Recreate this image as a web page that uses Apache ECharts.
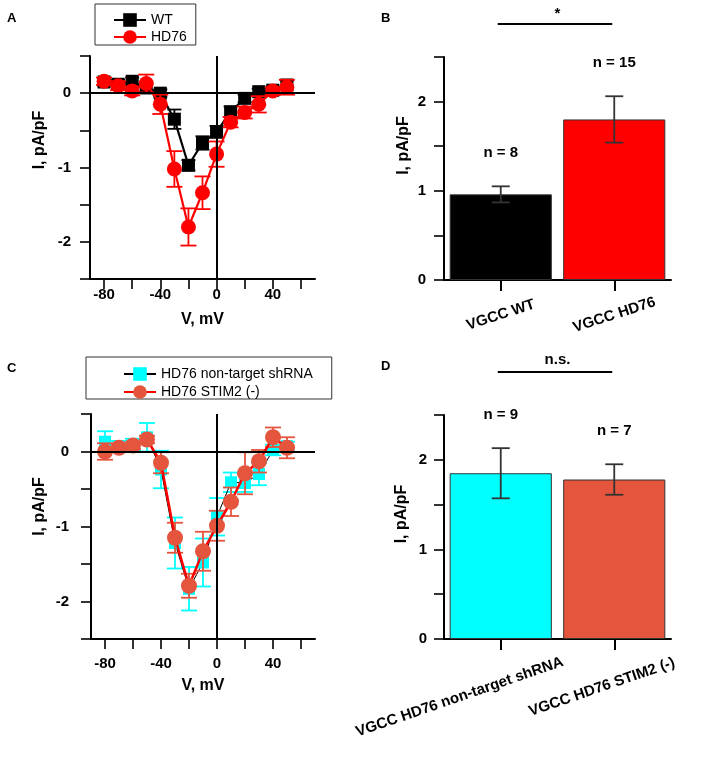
<!DOCTYPE html>
<html>
<head>
<meta charset="utf-8">
<script src="https://cdn.jsdelivr.net/npm/echarts@6/dist/echarts.min.js"></script>
<style>
  html, body { margin: 0; padding: 0; background: #fff; }
  #chart { width: 708px; height: 758px; }
</style>
</head>
<body>
<div id="chart"></div>
<script>
// I-V curves (A, C) and peak current bars (B, D)
var FONT = '"Liberation Sans", Arial, sans-serif';

// ---- data ----
var voltages = [-80, -70, -60, -50, -40, -30, -20, -10, 0, 10, 20, 30, 40, 50];
var xTickValues = [-80, -60, -40, -20, 0, 20, 40, 60];
var xLabelValues = [-80, -40, 0, 40];

var wtMean = [0.15, 0.12, 0.16, 0.07, 0.00, -0.35, -0.97, -0.67, -0.52, -0.25, -0.07, 0.02, 0.04, 0.11];
var wtErr = [0.05, 0.06, 0.05, 0.05, 0.05, 0.13, 0.07, 0.09, 0.08, 0.07, 0.05, 0.04, 0.05, 0.06];
var hdMean = [0.16, 0.10, 0.03, 0.13, -0.15, -1.02, -1.80, -1.34, -0.82, -0.39, -0.26, -0.15, 0.03, 0.08];
var hdErr = [0.05, 0.06, 0.06, 0.12, 0.13, 0.24, 0.25, 0.22, 0.17, 0.07, 0.08, 0.11, 0.05, 0.10];

var ntMean = [0.13, 0.07, 0.09, 0.19, -0.24, -1.22, -1.83, -1.48, -0.87, -0.41, -0.42, -0.30, 0.02, 0.07];
var ntErr = [0.14, 0.07, 0.08, 0.19, 0.25, 0.34, 0.29, 0.32, 0.25, 0.13, 0.12, 0.15, 0.07, 0.06];
var stMean = [0.00, 0.05, 0.08, 0.16, -0.15, -1.15, -1.79, -1.33, -0.99, -0.67, -0.29, -0.13, 0.19, 0.05];
var stErr = [0.11, 0.04, 0.05, 0.05, 0.14, 0.20, 0.16, 0.26, 0.20, 0.19, 0.28, 0.15, 0.13, 0.14];

var catsB = ['VGCC WT', 'VGCC HD76'];
var meanB = [0.96, 1.80];
var errB = [0.09, 0.26];
var nB = ['n = 8', 'n = 15'];
var sigB = '*';

var catsD = ['VGCC HD76 non-target shRNA', 'VGCC HD76 STIM2 (-)'];
var meanD = [1.85, 1.78];
var errD = [0.28, 0.17];
var nD = ['n = 9', 'n = 7'];
var sigD = 'n.s.';

// ---- helpers ----
var boldText = { color: '#000', fontFamily: FONT, fontWeight: 'bold', fontSize: 15 };

function pts(mean) { return voltages.map(function (v, i) { return [v, mean[i]]; }); }
function errPts(mean, err) { return voltages.map(function (v, i) { return [v, mean[i] - err[i], mean[i] + err[i]]; }); }

function errSeries(gi, data, color, cap, z) {
  return {
    type: 'custom', xAxisIndex: gi, yAxisIndex: gi, z: z, data: data,
    encode: { x: 0, y: [1, 2] },
    renderItem: function (params, api) {
      var lo = api.coord([api.value(0), api.value(1)]);
      var hi = api.coord([api.value(0), api.value(2)]);
      var st = { stroke: color, lineWidth: 1.8 };
      return { type: 'group', children: [
        { type: 'line', shape: { x1: lo[0], y1: lo[1], x2: hi[0], y2: hi[1] }, style: st },
        { type: 'line', shape: { x1: lo[0] - cap, y1: lo[1], x2: lo[0] + cap, y2: lo[1] }, style: st },
        { type: 'line', shape: { x1: hi[0] - cap, y1: hi[1], x2: hi[0] + cap, y2: hi[1] }, style: st }
      ] };
    }
  };
}

function lineSeries(gi, name, data, lineColor, lineWidth, symbol, size, fill, z, zeroLines) {
  var s = {
    type: 'line', name: name, xAxisIndex: gi, yAxisIndex: gi, z: z, data: data,
    symbol: symbol, symbolSize: size, showAllSymbol: true,
    lineStyle: { color: lineColor, width: lineWidth },
    itemStyle: { color: fill, borderWidth: 0 }
  };
  if (zeroLines) {
    s.markLine = { silent: true, symbol: 'none', label: { show: false },
      lineStyle: { color: '#000', width: 2, type: 'solid' },
      data: [{ yAxis: 0 }, { xAxis: 0 }] };
  }
  return s;
}

function ivXAxis(gi, labelMargin, nameGap) {
  return {
    gridIndex: gi, type: 'value', min: -90, max: 70,
    axisLine: { show: true, onZero: false, lineStyle: { color: '#000', width: 2 } },
    axisTick: { show: true, customValues: xTickValues, length: 10, lineStyle: { color: '#000', width: 1.6 } },
    axisLabel: Object.assign({ customValues: xLabelValues, margin: labelMargin }, boldText),
    splitLine: { show: false },
    name: 'V, mV', nameLocation: 'middle', nameGap: nameGap,
    nameTextStyle: Object.assign({}, boldText, { fontSize: 16 })
  };
}

function intLabel(v) { return Number.isInteger(v) ? String(v) : ''; }

function yAxisOf(gi, min, max, labelMargin, nameGap, shift) {
  return {
    gridIndex: gi, type: 'value', min: min, max: max, interval: 0.5,
    axisLine: { show: true, onZero: false, lineStyle: { color: '#000', width: 2 } },
    axisTick: { show: true, length: 10, lineStyle: { color: '#000', width: 1.6 } },
    axisLabel: Object.assign({ formatter: intLabel, margin: labelMargin }, boldText),
    splitLine: { show: false },
    name: 'I, pA/pF', nameLocation: 'middle', nameGap: nameGap,
    nameTextStyle: Object.assign({}, boldText, { fontSize: 16, padding: [0, 0, 0, shift] })
  };
}

function barXAxis(gi, cats, margin, rotate, formatter, rich) {
  return {
    gridIndex: gi, type: 'category', data: cats, boundaryGap: true,
    axisLine: { show: true, lineStyle: { color: '#000', width: 2 } },
    axisTick: { show: true, alignWithLabel: true, length: 11, lineStyle: { color: '#000', width: 2 } },
    axisLabel: Object.assign({ interval: 0, rotate: rotate, align: 'center', verticalAlign: 'middle',
      margin: margin, formatter: formatter, rich: rich }, boldText),
    splitLine: { show: false }
  };
}

function barSeries(gi, mean, colors) {
  return {
    type: 'bar', xAxisIndex: gi, yAxisIndex: gi, barWidth: '90%', z: 2,
    data: mean.map(function (v, i) {
      return { value: v, itemStyle: { color: colors[i], borderColor: '#333', borderWidth: 1 } };
    })
  };
}

function barErrSeries(gi, mean, err, labels) {
  return {
    type: 'custom', xAxisIndex: gi, yAxisIndex: gi, z: 3,
    data: mean.map(function (m, i) { return [i, m - err[i], m + err[i]]; }),
    encode: { x: 0, y: [1, 2] },
    renderItem: function (params, api) {
      var lo = api.coord([api.value(0), api.value(1)]);
      var hi = api.coord([api.value(0), api.value(2)]);
      var st = { stroke: '#333', lineWidth: 1.8 };
      var cap = 9;
      return { type: 'group', children: [
        { type: 'line', shape: { x1: lo[0], y1: lo[1], x2: hi[0], y2: hi[1] }, style: st },
        { type: 'line', shape: { x1: lo[0] - cap, y1: lo[1], x2: lo[0] + cap, y2: lo[1] }, style: st },
        { type: 'line', shape: { x1: hi[0] - cap, y1: hi[1], x2: hi[0] + cap, y2: hi[1] }, style: st },
        { type: 'text', style: { text: labels[params.dataIndex], x: hi[0], y: hi[1] - 33,
          align: 'center', verticalAlign: 'middle', fill: '#000',
          fontFamily: FONT, fontWeight: 'bold', fontSize: 15 } }
      ] };
    }
  };
}

// significance bracket above the plot, drawn between the two category centres
function sigSeries(gi, top, text, lineGap, textGap) {
  return {
    type: 'custom', xAxisIndex: gi, yAxisIndex: gi, z: 3, clip: false,
    data: [[0, top]], encode: { x: 0, y: 1 },
    renderItem: function (params, api) {
      var a = api.coord([0, top]);
      var b = api.coord([1, top]);
      var y = a[1] - lineGap;
      return { type: 'group', children: [
        { type: 'line', shape: { x1: a[0] - 3, y1: y, x2: b[0] - 2, y2: y }, style: { stroke: '#000', lineWidth: 2 } },
        { type: 'text', style: { text: text, x: (a[0] + b[0]) / 2, y: y - textGap,
          align: 'center', verticalAlign: 'middle', fill: '#000',
          fontFamily: FONT, fontWeight: 'bold', fontSize: 15 } }
      ] };
    }
  };
}

function panelLetter(t, x, y) {
  return { type: 'text', left: x, top: y, style: { text: t, fill: '#000', fontFamily: FONT, fontWeight: 'bold', fontSize: 13 } };
}

var legendBase = {
  orient: 'vertical', align: 'left', itemWidth: 32, itemHeight: 17,
  borderColor: '#333', borderWidth: 1, borderRadius: 0, selectedMode: false,
  textStyle: { color: '#000', fontFamily: FONT, fontSize: 14 }
};

var chart = echarts.init(document.getElementById('chart'), null, { renderer: 'canvas' });
chart.setOption({
  animation: false,
  backgroundColor: '#fff',
  textStyle: { fontFamily: FONT },
  grid: [
    { left: 90, top: 56, width: 225, height: 223, outerBoundsMode: 'none' },
    { left: 444, top: 57, width: 227, height: 223, outerBoundsMode: 'none' },
    { left: 91, top: 414, width: 224, height: 225, outerBoundsMode: 'none' },
    { left: 444, top: 415, width: 227, height: 224, outerBoundsMode: 'none' }
  ],
  legend: [
    Object.assign({}, legendBase, { data: ['WT', 'HD76'], left: 95, top: 4, itemGap: 3, padding: [9, 9, 1, 18] }),
    Object.assign({}, legendBase, { data: ['HD76 non-target shRNA', 'HD76 STIM2 (-)'], left: 86, top: 357, itemGap: 4, padding: [10, 19, 0, 37] })
  ],
  xAxis: [
    ivXAxis(0, 8, 33),
    barXAxis(1, catsB, 35, 18),
    ivXAxis(2, 17, 39),
    barXAxis(3, catsD, 44, 19, function (v, i) { return '{' + (i === 0 ? 'a' : 'b') + '|' + v + '}'; }, {
      a: { padding: [0, 87, 0, 0], fontFamily: FONT, fontWeight: 'bold', fontSize: 15, color: '#000' },
      b: { padding: [0, 26, 0, 0], fontFamily: FONT, fontWeight: 'bold', fontSize: 15, color: '#000' }
    })
  ],
  yAxis: [
    yAxisOf(0, -2.5, 0.5, 19, 42, 55),
    yAxisOf(1, 0, 2.5, 18, 32, 46),
    yAxisOf(2, -2.5, 0.5, 22, 43, 40),
    yAxisOf(3, 0, 2.5, 17, 34, 26)
  ],
  series: [
    // A
    errSeries(0, errPts(wtMean, wtErr), '#000', 7, 2),
    lineSeries(0, 'WT', pts(wtMean), '#000', 2.2, 'rect', 13, '#000', 2, true),
    errSeries(0, errPts(hdMean, hdErr), '#ff0000', 8, 3),
    lineSeries(0, 'HD76', pts(hdMean), '#ff0000', 2.2, 'circle', 15, '#ff0000', 3),
    // B
    barSeries(1, meanB, ['#000000', '#ff0000']),
    barErrSeries(1, meanB, errB, nB),
    sigSeries(1, 2.5, sigB, 33, 10),
    // C
    errSeries(2, errPts(ntMean, ntErr), '#00ffff', 8, 2),
    lineSeries(2, 'HD76 non-target shRNA', pts(ntMean), '#000', 1, 'rect', 12, '#00ffff', 2, true),
    errSeries(2, errPts(stMean, stErr), '#e5553d', 8, 3),
    lineSeries(2, 'HD76 STIM2 (-)', pts(stMean), '#ff0000', 2.5, 'circle', 16, '#e5553d', 3),
    // D
    barSeries(3, meanD, ['#00ffff', '#e5553d']),
    barErrSeries(3, meanD, errD, nD),
    sigSeries(3, 2.5, sigD, 43, 12)
  ],
  graphic: [
    panelLetter('A', 7, 12),
    panelLetter('B', 381, 12),
    panelLetter('C', 7, 362),
    panelLetter('D', 381, 360)
  ]
});
window.addEventListener('resize', function () { chart.resize(); });
</script>
</body>
</html>
